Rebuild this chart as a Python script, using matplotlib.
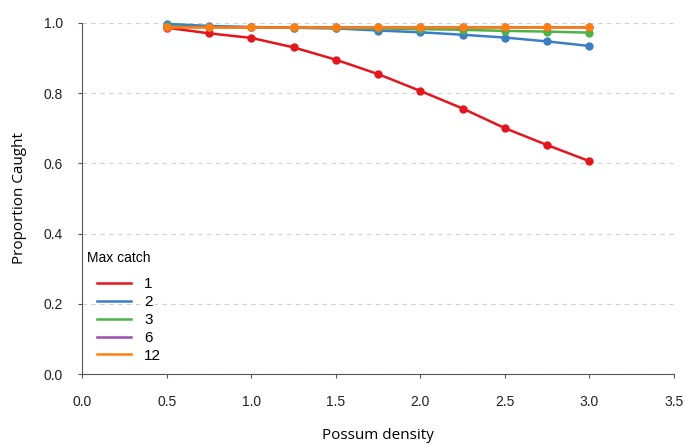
import matplotlib
matplotlib.use("Agg")
import matplotlib.pyplot as plt

density = [0.5, 0.75, 1.0, 1.25, 1.5, 1.75, 2.0, 2.25, 2.5, 2.75, 3.0]
catch_1 = [0.986, 0.970, 0.957, 0.930, 0.895, 0.854, 0.806, 0.756, 0.700, 0.652, 0.606]
catch_2 = [0.997, 0.991, 0.988, 0.986, 0.984, 0.978, 0.973, 0.966, 0.958, 0.947, 0.934]
catch_3 = [0.990, 0.988, 0.987, 0.986, 0.985, 0.984, 0.982, 0.980, 0.977, 0.975, 0.972]
catch_6 = [0.988, 0.988, 0.987, 0.987, 0.987, 0.987, 0.987, 0.987, 0.987, 0.987, 0.987]
catch_12 = [0.987, 0.987, 0.987, 0.987, 0.987, 0.987, 0.987, 0.987, 0.987, 0.987, 0.987]

series = [("1", catch_1, "#e8141c"), ("2", catch_2, "#3a7fc4"), ("3", catch_3, "#4bb446"),
          ("6", catch_6, "#9b4fb0"), ("12", catch_12, "#ff7f0e")]

plt.rcParams["font.family"] = ["Liberation Sans", "DejaVu Sans"]
fig = plt.figure(figsize=(6.85, 4.47), dpi=100)
ax = fig.add_axes([0.12, 0.163, 0.864, 0.786])

for label, values, color in series:
    ax.plot(density, values, color=color, lw=1.8, marker="o", ms=5, label=label, clip_on=False)

ax.set_xlim(0, 3.5)
ax.set_ylim(0, 1.0)
ax.set_xticks([0.0, 0.5, 1.0, 1.5, 2.0, 2.5, 3.0, 3.5])
ax.set_yticks([0.0, 0.2, 0.4, 0.6, 0.8, 1.0])
ax.set_xticklabels([f"{v:.1f}" for v in ax.get_xticks()])
ax.set_yticklabels([f"{v:.1f}" for v in ax.get_yticks()])
ax.yaxis.grid(True, color="#d0d0d0", ls=(0, (4, 4)), lw=0.8)
ax.set_axisbelow(True)
for side in ("top", "right"):
    ax.spines[side].set_visible(False)
for side in ("left", "bottom"):
    ax.spines[side].set_color("#555555")
ax.tick_params(direction="out", length=3, colors="#555555", labelsize=10, labelcolor="#222222")
ax.tick_params(axis="x", pad=12)
ax.tick_params(axis="y", pad=11)

ax.set_xlabel("Possum density", fontsize=11, family="Open Sans", labelpad=14)
ax.set_ylabel("Proportion Caught", fontsize=11, family="Open Sans", labelpad=12)

# legend title sits apart from the entries, so draw it as plain text
ax.text(0.008, 0.33, "Max catch", transform=ax.transAxes, fontsize=10, va="center", ha="left")
leg = ax.legend(loc="upper left", bbox_to_anchor=(0.012, 0.297), frameon=False,
                fontsize=11, handlelength=2.2, labelspacing=0.25,
                handletextpad=0.9, borderaxespad=0.1)
for h in leg.legend_handles:
    h.set_marker("")

fig.savefig("out.png", dpi=100)
